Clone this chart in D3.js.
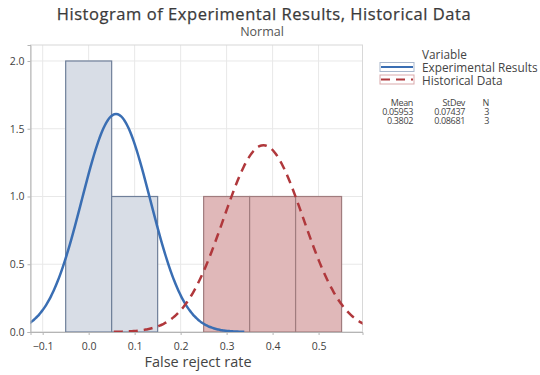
<!DOCTYPE html>
<html>
<head>
<meta charset="utf-8">
<script src="https://cdn.jsdelivr.net/npm/d3@7"></script>
<style>
  body { margin: 0; background: #fff; }
  text { font-family: "Open Sans", "Noto Sans", sans-serif; }
</style>
</head>
<body>
<svg id="chart" width="540" height="375"></svg>
<script>
// Histogram bins (lower edge, upper edge, count) per variable
var seriesNames = ['Experimental Results', 'Historical Data'];
var expBins = [[-0.05, 0.05, 2], [0.05, 0.15, 1]];
var histBins = [[0.25, 0.35, 1], [0.35, 0.45, 1], [0.45, 0.55, 1]];
var means = [0.05953, 0.3802];
var stdevs = [0.07437, 0.08681];
var counts = [3, 3];
var meanLabels = ['0.05953', '0.3802'];
var stdevLabels = ['0.07437', '0.08681'];
var xTicks = [-0.1, 0.0, 0.1, 0.2, 0.3, 0.4, 0.5];
var yTicks = [0.0, 0.5, 1.0, 1.5, 2.0];
var binWidth = 0.1;

var svg = d3.select('#chart');
var plotL = 30.5, plotR = 362.5, plotT = 45, plotB = 332;

var x = d3.scaleLinear().domain([-0.1265, 0.5955]).range([plotL, plotR]);
var y = d3.scaleLinear().domain([0, 2.118]).range([plotB, plotT]);

// titles
svg.append('text')
    .attr('x', 264).attr('y', 20)
    .attr('text-anchor', 'middle')
    .attr('font-size', 16.5)
    .attr('letter-spacing', 0.55)
    .attr('stroke', '#3a3a3a').attr('stroke-width', 0.25)
    .attr('fill', '#3a3a3a')
    .text('Histogram of Experimental Results, Historical Data');
svg.append('text')
    .attr('x', 262).attr('y', 36)
    .attr('text-anchor', 'middle')
    .attr('font-size', 12.5)
    .attr('fill', '#555')
    .text('Normal');

// grid
var grid = svg.append('g');
grid.selectAll('.vg').data(xTicks).enter().append('line')
    .attr('x1', function (d) { return x(d); }).attr('x2', function (d) { return x(d); })
    .attr('y1', plotT).attr('y2', plotB)
    .attr('stroke', '#e8e8e8').attr('stroke-width', 1);
grid.selectAll('.hg').data(yTicks).enter().append('line')
    .attr('x1', plotL).attr('x2', plotR)
    .attr('y1', function (d) { return y(d); }).attr('y2', function (d) { return y(d); })
    .attr('stroke', '#e8e8e8').attr('stroke-width', 1);

// plot frame
svg.append('rect')
    .attr('x', plotL).attr('y', plotT)
    .attr('width', plotR - plotL).attr('height', plotB - plotT)
    .attr('fill', 'none').attr('stroke', '#d8d8d8');

// bars
var plot = svg.append('g');
function drawBars(bins, fill, stroke) {
    plot.selectAll(null).data(bins).enter().append('rect')
        .attr('x', function (d) { return x(d[0]); })
        .attr('y', function (d) { return y(d[2]); })
        .attr('width', function (d) { return x(d[1]) - x(d[0]); })
        .attr('height', function (d) { return y(0) - y(d[2]); })
        .attr('fill', fill)
        .attr('stroke', stroke)
        .attr('stroke-width', 1.2);
}
drawBars(expBins, '#d8dde6', '#6f7f99');
drawBars(histBins, '#e0b8b9', '#a07c7e');

// fitted normal curves, scaled by N * bin width
svg.append('clipPath').attr('id', 'clip').append('rect')
    .attr('x', plotL).attr('y', plotT - 5)
    .attr('width', plotR - plotL).attr('height', plotB - plotT + 5);

function curve(i) {
    var m = means[i], s = stdevs[i];
    var pts = d3.range(-3.75, 3.7501, 0.05).map(function (k) {
        var v = m + k * s;
        var dens = counts[i] * binWidth * Math.exp(-0.5 * k * k) / (s * Math.sqrt(2 * Math.PI));
        return [v, dens];
    });
    return d3.line()
        .x(function (d) { return x(d[0]); })
        .y(function (d) { return y(d[1]); })
        .curve(d3.curveBasis)(pts);
}
var curves = svg.append('g').attr('clip-path', 'url(#clip)');
curves.append('path').attr('d', curve(0))
    .attr('fill', 'none').attr('stroke', '#3a6eb3').attr('stroke-width', 2.5);
curves.append('path').attr('d', curve(1))
    .attr('fill', 'none').attr('stroke', '#b0383c').attr('stroke-width', 2.5)
    .attr('stroke-dasharray', '9,6');

// axes
var xAxis = svg.append('g').attr('transform', 'translate(0,' + plotB + ')')
    .call(d3.axisBottom(x).tickValues(xTicks).tickFormat(d3.format('.1f')).tickSize(3));
xAxis.select('.domain').attr('stroke', '#b5b5b5');
xAxis.selectAll('line').attr('stroke', '#b5b5b5');
xAxis.selectAll('text').attr('font-size', 10.5).attr('fill', '#3f3f3f').attr('dy', '1.1em')
    .attr('font-family', '"Open Sans", sans-serif');

var yAxis = svg.append('g').attr('transform', 'translate(' + plotL + ',0)')
    .call(d3.axisLeft(y).tickValues(yTicks).tickFormat(d3.format('.1f')).tickSize(3));
yAxis.select('.domain').attr('stroke', '#b5b5b5');
yAxis.selectAll('line').attr('stroke', '#b5b5b5');
yAxis.selectAll('text').attr('font-size', 10.5).attr('fill', '#3f3f3f')
    .attr('font-family', '"Open Sans", sans-serif');

svg.append('text')
    .attr('x', 198).attr('y', 367)
    .attr('text-anchor', 'middle')
    .attr('font-size', 14.5)
    .attr('fill', '#444')
    .text('False reject rate');

// legend
var lg = svg.append('g').attr('font-size', 11.8).attr('fill', '#444');
lg.append('text').attr('x', 422).attr('y', 59).attr('fill', '#444').text('Variable');
var legendStyles = [
    { fill: '#fff', box: '#a9b7cc', line: '#3a6eb3', dash: null },
    { fill: '#fff', box: '#d9a9ab', line: '#b0383c', dash: '9,6' }
];
seriesNames.forEach(function (name, i) {
    var yc = 67 + i * 12.5;
    lg.append('rect').attr('x', 380).attr('y', yc - 4.5).attr('width', 34).attr('height', 9)
        .attr('fill', legendStyles[i].fill).attr('stroke', legendStyles[i].box);
    lg.append('line').attr('x1', 381).attr('x2', 413).attr('y1', yc).attr('y2', yc)
        .attr('stroke', legendStyles[i].line).attr('stroke-width', 2)
        .attr('stroke-dasharray', legendStyles[i].dash);
    lg.append('text').attr('x', 422).attr('y', yc + 5).attr('fill', '#444').text(name);
});

// stats table, one text block with a row of tspans per line
var cols = [413, 465, 489];
var rows = [['Mean', 'StDev', 'N']];
[0, 1].forEach(function (i) {
    rows.push([meanLabels[i], stdevLabels[i], String(counts[i])]);
});
var tb = svg.append('text')
    .attr('font-size', 9).attr('letter-spacing', -0.35)
    .attr('fill', '#444').attr('text-anchor', 'end');
rows.forEach(function (row, r) {
    row.forEach(function (v, j) {
        tb.append('tspan').attr('x', cols[j]).attr('y', 105.5 + r * 9.3).text(v);
    });
});
</script>
</body>
</html>
